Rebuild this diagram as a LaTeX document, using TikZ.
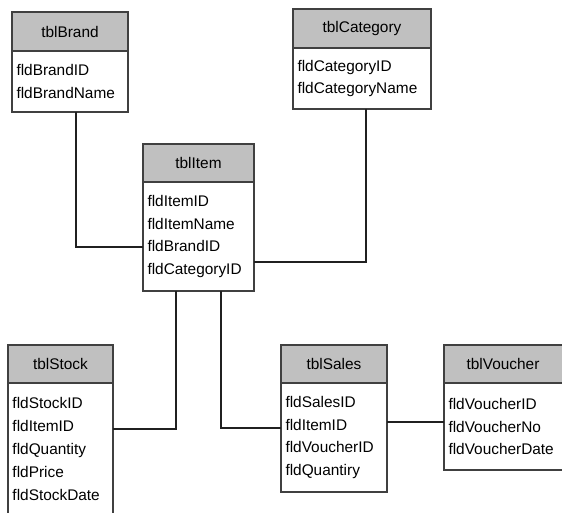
\documentclass[tikz,border=0pt]{standalone}
\usepackage{fontspec}
\setmainfont{Liberation Sans}
\definecolor{hdrgray}{HTML}{C0C0C0}
\definecolor{bordercol}{HTML}{404040}
\definecolor{linecol}{HTML}{202020}
\begin{document}
\begin{tikzpicture}[x=1pt,y=-1pt,
  every node/.style={font=\fontsize{15.4}{22.8}\selectfont, outer sep=0pt},
  tblhead/.style={draw=bordercol, line width=1.2pt, fill=hdrgray, anchor=north west, inner sep=0pt, minimum height=38pt},
  tblbody/.style={draw=bordercol, line width=1.2pt, fill=white, anchor=north west, align=left, inner xsep=4.5pt, inner ysep=0pt},
  link/.style={draw=linecol, line width=1.1pt}]
\useasboundingbox (0,0) rectangle (562,513);
\clip (0,0) rectangle (562,513);
\fill[white] (0,0) rectangle (562,513);

% tblBrand
\node[tblhead, minimum width=116pt, minimum height=39pt] (brandH) at (12,12) {tblBrand};
\node[tblbody, text width=107pt, minimum height=61pt] (brandB) at (brandH.south west) {fldBrandID\\fldBrandName};

% tblCategory
\node[tblhead, minimum width=138pt, minimum height=39pt] (catH) at (293,9) {tblCategory};
\node[tblbody, text width=129pt, minimum height=61pt] (catB) at (catH.south west) {fldCategoryID\\fldCategoryName};

% tblItem
\node[tblhead, minimum width=111pt] (itemH) at (143,144) {tblItem};
\node[tblbody, text width=102pt, minimum height=109pt] (itemB) at (itemH.south west) {fldItemID\\fldItemName\\fldBrandID\\fldCategoryID};

% tblStock
\node[tblhead, minimum width=105pt] (stockH) at (8,345) {tblStock};
\node[tblbody, text width=96pt, minimum height=132pt] (stockB) at (stockH.south west) {fldStockID\\fldItemID\\fldQuantity\\fldPrice\\fldStockDate};

% tblSales
\node[tblhead, minimum width=106pt] (salesH) at (281,345) {tblSales};
\node[tblbody, text width=97pt, minimum height=109pt] (salesB) at (salesH.south west) {fldSalesID\\fldItemID\\fldVoucherID\\fldQuantiry};

% tblVoucher
\node[tblhead, minimum width=130pt] (vouH) at (444,345) {\hspace*{-12pt}tblVoucher};
\node[tblbody, text width=121pt, minimum height=87pt] (vouB) at (vouH.south west) {fldVoucherID\\fldVoucherNo\\fldVoucherDate};

% connectors
\draw[link] ([xshift=6pt]brandB.south) |- ([yshift=-10.5pt]itemB.west);
\draw[link] ([xshift=4pt]catB.south) |- ([yshift=-25.5pt]itemB.east);
\draw[link] ([xshift=-22.5pt]itemB.south) |- ([yshift=20pt]stockB.east);
\draw[link] ([xshift=22.5pt]itemB.south) |- ([yshift=9.5pt]salesB.west);
\draw[link] ([yshift=15.5pt]salesB.east) -- ([yshift=15.5pt]salesB.east -| vouB.west);
\end{tikzpicture}
\end{document}
